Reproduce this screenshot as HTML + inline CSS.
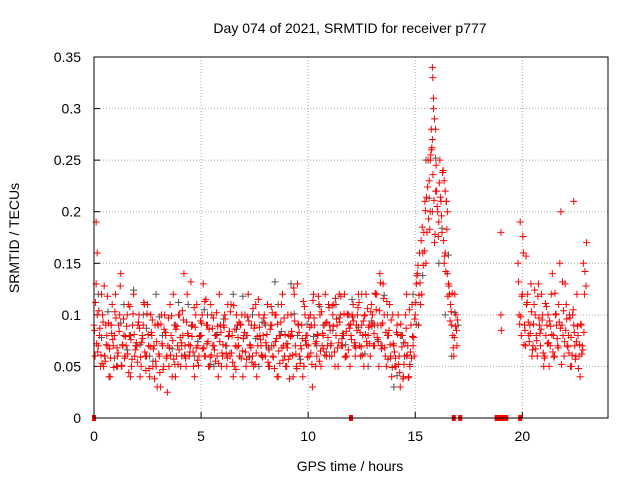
<!DOCTYPE html>
<html><head><meta charset="utf-8"><style>
body{margin:0;background:#fff;}
svg{display:block;font-family:"Liberation Sans",sans-serif;}
</style></head><body>
<svg id="chart" width="640" height="480" viewBox="0 0 640 480">
<rect width="640" height="480" fill="#fff"/>
<text x="350" y="33" font-size="14" text-anchor="middle">Day 074 of 2021, SRMTID for receiver p777</text>
<g id="grid"></g>
<g id="axes"></g>
<g id="marks"></g>
<rect x="94" y="57" width="514" height="361" fill="none" stroke="#000" stroke-width="1"/>
<text x="350" y="471" font-size="14" text-anchor="middle">GPS time / hours</text>
<text transform="translate(19,238) rotate(-90)" font-size="14" text-anchor="middle">SRMTID / TECUs</text>
</svg>
<script>
const xTicks=[0,5,10,15,20];
const yTicks=[0,0.05,0.1,0.15,0.2,0.25,0.3,0.35];
const yTickLabels=["0","0.05","0.1","0.15","0.2","0.25","0.3","0.35"];
const dayStarts=[0.0,0.05,0.025,0.075];
const eveStarts=[19.8,19.85,19.825,19.875];
const grayStarts=[0.2,0.35];
const stepA=0.1, stepGray=0.3;
const redA=[.09,.13,.07,.05,.1,.06,.08,.04,.09,.07,.12,.06,.1,.05,.08,.07,.11,.04,.09,.06,.07,.1,.05,.09,.06,.11,.04,.08,.07,.05,.09,.03,.07,.1,.06,.05,.08,.12,.04,.07,.1,.06,.14,.05,.08,.07,.09,.04,.11,.06,.08,.13,.06,.09,.05,.1,.07,.08,.04,.09,.06,.1,.05,.08,.11,.04,.07,.09,.06,.1,.08,.05,.12,.07,.06,.09,.04,.1,.07,.08,.06,.11,.05,.09,.07,.1,.04,.08,.12,.06,.05,.08,.1,.04,.07,.13,.06,.09,.05,.08,.07,.1,.03,.09,.06,.11,.05,.08,.12,.07,.09,.06,.11,.08,.05,.1,.07,.12,.06,.09,.08,.11,.06,.1,.07,.09,.05,.12,.08,.06,.1,.07,.12,.05,.09,.13,.06,.08,.11,.04,.07,.05,.1,.03,.08,.06,.12,.04,.09,.07,.1,.14,.16,.12,.18,.15,.25,.2,.27,.17,.22,.19,.21,.24,.16,.14,.12,.09,.06,.1];
const redB=[.06,.1,.08,.12,.05,.09,.07,.04,.11,.08,.05,.09,.14,.07,.06,.1,.08,.05,.12,.07,.09,.04,.08,.11,.06,.07,.1,.05,.09,.03,.06,.1,.05,.08,.07,.11,.04,.09,.06,.1,.05,.08,.07,.12,.06,.09,.05,.1,.07,.08,.1,.06,.09,.05,.11,.07,.08,.06,.12,.05,.09,.07,.11,.06,.08,.05,.1,.07,.09,.04,.1,.08,.06,.09,.05,.11,.07,.08,.06,.1,.07,.05,.09,.06,.1,.04,.08,.11,.07,.05,.1,.06,.08,.12,.05,.09,.07,.04,.1,.08,.06,.09,.12,.05,.08,.1,.07,.09,.06,.11,.07,.1,.05,.09,.12,.07,.08,.06,.1,.05,.1,.07,.09,.12,.06,.08,.1,.07,.09,.11,.07,.12,.09,.14,.07,.1,.05,.08,.06,.1,.05,.09,.06,.08,.04,.1,.07,.05,.11,.06,.13,.09,.11,.16,.21,.18,.23,.28,.3,.22,.2,.25,.18,.15,.21,.13,.11,.08,.12,.07];
const redE=[.085,.072,.104,.061,.093,.055,.118,.067,.082,.049,.097,.063,.128,.071,.058,.089,.044,.076,.101,.066,.054,.087,.073,.112,.046,.081,.069,.095,.038,.074,.062,.091,.047,.083,.025,.068,.099,.057,.086,.052,.078,.104,.061,.093,.071,.132,.064,.088,.056,.079,.092,.068,.115,.074,.059,.087,.066,.102,.053,.083,.071,.096,.058,.084,.063,.109,.047,.078,.091,.065,.083,.057,.094,.068,.106,.052,.079,.088,.061,.097,.073,.054,.086,.102,.048,.077,.065,.093,.056,.081,.068,.038,.084,.126,.062,.091,.053,.077,.108,.071,.097,.063,.114,.072,.081,.055,.103,.067,.092,.078,.085,.109,.064,.096,.073,.118,.082,.059,.101,.087,.076,.094,.068,.107,.083,.061,.099,.074,.088,.103,.092,.121,.078,.104,.067,.116,.083,.057,.071,.049,.064,.083,.052,.091,.038,.073,.061,.105,.058,.078,.112,.148,.131,.185,.162,.214,.193,.255,.236,.178,.205,.228,.196,.172,.142,.118,.094,.121,.078,.085];
const redF=[.112,.064,.087,.053,.128,.071,.092,.058,.076,.103,.068,.084,.051,.096,.079,.062,.108,.057,.081,.073,.093,.059,.077,.064,.101,.048,.083,.067,.055,.091,.044,.072,.086,.058,.097,.061,.075,.052,.089,.066,.073,.095,.058,.082,.064,.079,.107,.068,.051,.094,.067,.113,.072,.086,.061,.097,.055,.089,.074,.063,.088,.062,.079,.103,.054,.086,.069,.093,.058,.077,.064,.098,.071,.054,.087,.063,.115,.076,.059,.092,.081,.066,.108,.059,.074,.091,.053,.068,.097,.072,.057,.079,.061,.094,.048,.083,.067,.113,.075,.059,.088,.052,.097,.074,.118,.065,.082,.061,.093,.107,.072,.089,.116,.068,.093,.077,.101,.084,.066,.091,.098,.073,.085,.112,.069,.094,.081,.106,.072,.089,.082,.105,.074,.131,.092,.068,.113,.085,.095,.072,.058,.081,.044,.069,.052,.087,.039,.064,.079,.096,.138,.119,.172,.148,.201,.224,.183,.262,.211,.245,.176,.214,.238,.157,.183,.128,.103,.068,.089,.095];
const redC=[.15,.19,.12,.09,.11,.08,.13,.07,.1,.06,.09,.12,.05,.08,.1,.07,.14,.06,.09,.11,.2,.08,.13,.07,.1,.05,.09,.06,.08,.04,.07,.12,.17];
const redD=[.1,.08,.16,.07,.12,.09,.06,.11,.08,.13,.07,.1,.06,.09,.05,.12,.08,.1,.07,.15,.09,.06,.11,.08,.05,.1,.07,.12,.06,.09,.15];
const redG=[.132,.098,.176,.085,.112,.074,.103,.091,.067,.118,.082,.095,.058,.108,.073,.089,.064,.121,.077,.093,.052,.104,.085,.069,.097,.061,.083,.074,.048,.091,.066,.142];
const redH=[.091,.118,.071,.157,.093,.082,.066,.124,.075,.097,.086,.063,.111,.072,.094,.081,.059,.101,.068,.087,.132,.074,.096,.063,.078,.105,.057,.089,.071,.062,.083,.128];
const grayV=[.12,.06,.09,.05,.11,.08,.07,.1,.06,.12,.08,.05,.09,.07,.11,.06,.08,.1,.05,.09,.07,.12,.06,.08,.1,.05,.09,.07,.11,.06,.13,.08,.05,.1,.07,.09,.06,.11,.08,.1,.07,.12,.05,.09,.07,.1,.03,.08,.06,.12,.16,.25,.2,.15,.1,.06,.09];
const grayW=[.078,.103,.058,.092,.066,.124,.071,.087,.055,.098,.083,.067,.112,.061,.089,.074,.105,.052,.081,.096,.063,.086,.118,.059,.077,.093,.068,.132,.084,.072,.101,.057,.091,.079,.108,.064,.085,.097,.071,.115,.088,.062,.094,.076,.119,.058,.041,.073,.052,.091,.138,.213,.252,.184,.158,.102];
const extraHours=[15.8,15.82,15.85,15.9,15.95,16.3,16.35,16.4,16.45,16.5,19.0,19.0,19.02,15.7,15.75,0.1,0.15,22.4];
const extraVals=[.34,.33,.31,.29,.28,.24,.23,.22,.21,.2,.18,.1,.085,.25,.26,.19,.16,.21];
const zeroHours=[0,12,16.8,17.1,18.8,18.95,19.1,19.25,19.9];

const NS="http://www.w3.org/2000/svg";
const X=h=>94+h*(514/24);
const Y=v=>418-v*(361/0.35);
const grid=document.getElementById('grid'),axes=document.getElementById('axes'),marks=document.getElementById('marks');
function mk(tag,attrs,parent){const e=document.createElementNS(NS,tag);for(const k in attrs)e.setAttribute(k,attrs[k]);parent.appendChild(e);return e;}
xTicks.forEach(t=>{
  if(t>0){const g=mk('line',{x1:X(t),x2:X(t),y1:57,y2:418,stroke:'#aaa','stroke-dasharray':'1,2'},grid);
  
  }
  const tk=mk('line',{x1:X(t),x2:X(t),y1:418,y2:412,stroke:'#000'},axes);
  
  
  const lb=mk('text',{x:X(t),y:441,'font-size':14,'text-anchor':'middle'},axes);lb.textContent=t;
  
  
});
yTicks.forEach((v,i)=>{
  if(v>0){const g=mk('line',{x1:94,x2:608,y1:Y(v),y2:Y(v),stroke:'#aaa','stroke-dasharray':'1,2'},grid);
  
  }
  const tk=mk('line',{x1:94,x2:100,y1:Y(v),y2:Y(v),stroke:'#000'},axes);
  
  
  const lb=mk('text',{x:81,y:Y(v)+5,'font-size':14,'text-anchor':'end'},axes);lb.textContent=yTickLabels[i];
  
  
});
function plus(h,v,color,name){
  const x=X(h),y=Y(v);
  const p=mk('path',{d:`M${x-3.5} ${y}H${x+3.5}M${x} ${y-3.5}V${y+3.5}`,stroke:color,'stroke-width':1,fill:'none'},marks);
  
  
}
grayV.forEach((v,i)=>plus(grayStarts[0]+i*stepGray,v,'#555','gray-point'));
grayW.forEach((v,i)=>plus(grayStarts[1]+i*stepGray,v,'#555','gray-point'));
[redA,redB,redE,redF].forEach((s,k)=>s.forEach((v,i)=>plus(dayStarts[k]+i*stepA,v,'#f00','red-point')));
[redC,redD,redG,redH].forEach((s,k)=>s.forEach((v,i)=>plus(eveStarts[k]+i*stepA,v,'#f00','red-point')));
extraHours.forEach((h,i)=>plus(h,extraVals[i],'#f00','red-point'));
zeroHours.forEach(h=>{
  const r=mk('rect',{x:X(h)-2,y:415,width:4,height:6,fill:'#f00'},marks);
  
  
});
</script>
</body></html>
